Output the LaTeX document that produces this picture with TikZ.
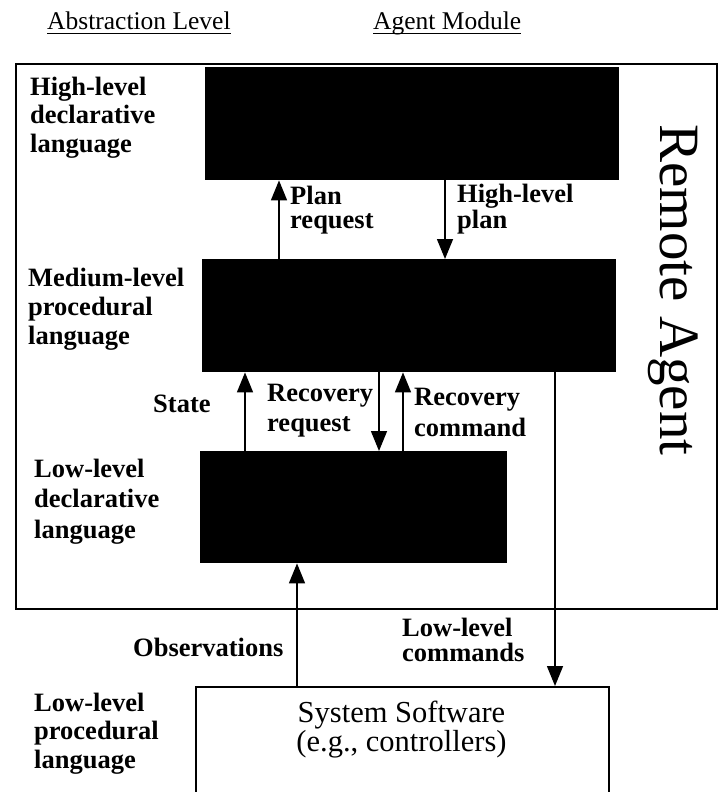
\documentclass[tikz,border=0pt]{standalone}
\usepackage{fontspec}
\setmainfont{Liberation Serif}
\usetikzlibrary{arrows.meta}
\tikzset{
  blk/.style={fill=black, inner sep=0pt, anchor=north west},
  frame/.style={draw=black, line width=2pt, inner sep=0pt, anchor=north west},
  conn/.style={line width=1.5pt, -{Triangle[length=20pt,width=16pt]}},
  lbl/.style={font=\bfseries\fontsize{26.5}{#1}\selectfont, align=left, anchor=base west, inner sep=0pt},
  lbl/.default=29,
  ttl/.style={font=\fontsize{25.5}{30}\selectfont, anchor=base west, inner sep=0pt},
  uline/.style={line width=1.3pt}
}
\begin{document}
\begin{tikzpicture}[x=1pt,y=-1pt]
\useasboundingbox (0,0) rectangle (720,792);
% titles
\node[ttl] (t1) at (47,30) {Abstraction Level};
\node[ttl] (t2) at (373,30) {Agent Module};
\draw[uline] ([yshift=-3.5pt]t1.base west) -- ([yshift=-3.5pt]t1.base east);
\draw[uline] ([yshift=-3.5pt]t2.base west) -- ([yshift=-3.5pt]t2.base east);
% frame and boxes
\node[frame, minimum width=701pt, minimum height=545pt] (ra) at (15,63) {};
\node[blk, minimum width=414pt, minimum height=113pt] (hl) at (205,67) {};
\node[blk, minimum width=414pt, minimum height=113pt] (ml) at (202,259) {};
\node[blk, minimum width=307pt, minimum height=112pt] (ll) at (200,451) {};
\node[frame, minimum width=413pt, minimum height=150pt] (sys) at (195,686) {};
% connectors
\draw[conn] (ml.north -| 279,0) -- (hl.south -| 279,0);
\draw[conn] (hl.south -| 445,0) -- (ml.north -| 445,0);
\draw[conn] (ll.north -| 245,0) -- (ml.south -| 245,0);
\draw[conn] (ml.south -| 379,0) -- (ll.north -| 379,0);
\draw[conn] (ll.north -| 403,0) -- (ml.south -| 403,0);
\draw[conn] (sys.north -| 297,0) -- (ll.south -| 297,0);
\draw[conn] (ml.south -| 555,0) -- (sys.north -| 555,0);
% labels (anchor = baseline of last line)
\node[lbl=28.5] (l1) at (30,152) {High-level\\declarative\\language};
\node[lbl=24] (l2) at (290,228) {Plan\\request};
\node[lbl=23] (l3) at (457,228) {High-level\\plan};
\node[lbl=29] (l4) at (28,344) {Medium-level\\procedural\\language};
\node[lbl] (l5) at (153,412) {State};
\node[lbl=30] (l6) at (267,431) {Recovery\\request};
\node[lbl=31] (l7) at (414,436) {Recovery\\command};
\node[lbl=30.5] (l8) at (34,538) {Low-level\\declarative\\language};
\node[lbl] (l9) at (133,656) {Observations};
\node[lbl=25] (l10) at (402,661) {Low-level\\commands};
\node[lbl=28.5] (l11) at (34,768) {Low-level\\procedural\\language};
\node[font=\fontsize{30.5}{28.5}\selectfont, align=center, anchor=base, inner sep=0pt] (st) at (401.5,751) {System Software\\(e.g., controllers)};
\node[font=\fontsize{57}{60}\selectfont, rotate=-90, anchor=base, inner sep=0pt] (rat) at (660,290) {Remote Agent};
\end{tikzpicture}
\end{document}
